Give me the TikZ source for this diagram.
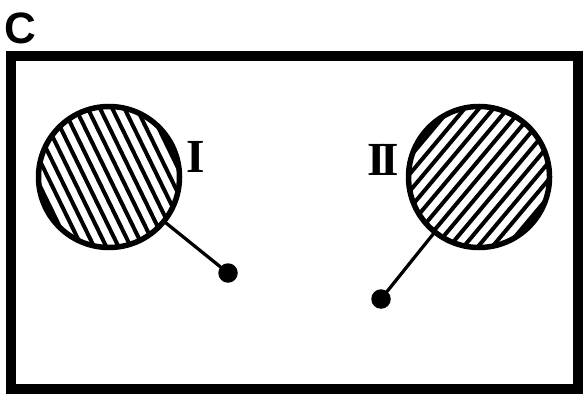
\documentclass[tikz,border=0pt]{standalone}
\usepackage{fontspec}
\newfontfamily\panelfont{Liberation Sans}
\newfontfamily\romanfont{Liberation Serif}
\usepackage{tikz}
\usetikzlibrary{calc}

\begin{document}
\begin{tikzpicture}[x=0.2mm, y=-0.2mm, line cap=round, line join=round,
    frame/.style={line width=1.9mm, line cap=butt, line join=miter},
    well/.style={circle, draw, line width=1.1mm, inner sep=0pt, minimum size=28.2mm},
    hatch/.style={line width=0.8mm, line cap=butt},
    tip/.style={circle, fill, inner sep=0pt, minimum size=3.9mm},
    stem/.style={line width=0.65mm},
    numeral/.style={font=\romanfont\bfseries\fontsize{27}{27}\selectfont, inner sep=0pt}]

    \useasboundingbox (0,0) rectangle (583,395);

    \coordinate (cI) at (109,177);
    \coordinate (cII) at (479,177);

    \node[font=\panelfont\bfseries\fontsize{25}{25}\selectfont, inner sep=0pt] (panel) at (20.5,28) {C};

    \draw[frame] (11,56) rectangle (578,389);

    \begin{scope}
        \clip (cI) circle (71);
        \begin{scope}[shift={(cI)}, rotate=26]
            \foreach \k in {-7,...,7}
                \draw[hatch] (\k*11,-90) -- (\k*11,90);
        \end{scope}
    \end{scope}
    \begin{scope}
        \clip (cII) circle (71);
        \begin{scope}[shift={(cII)}, rotate=-40]
            \foreach \k in {-7,...,7}
                \draw[hatch] (\k*11,-90) -- (\k*11,90);
        \end{scope}
    \end{scope}

    \node[well] (wellI) at (cI) {};
    \node[well] (wellII) at (cII) {};

    \node[tip] (tipI) at (228,273) {};
    \node[tip] (tipII) at (381,299) {};

    \draw[stem] (wellI) -- (tipI);
    \draw[stem] (wellII) -- (tipII);

    \node[numeral] (labI) at (196,157) {I};
    \node[numeral] (labII) at (383,160) {I\kern-0.12em I};

\end{tikzpicture}
\end{document}
